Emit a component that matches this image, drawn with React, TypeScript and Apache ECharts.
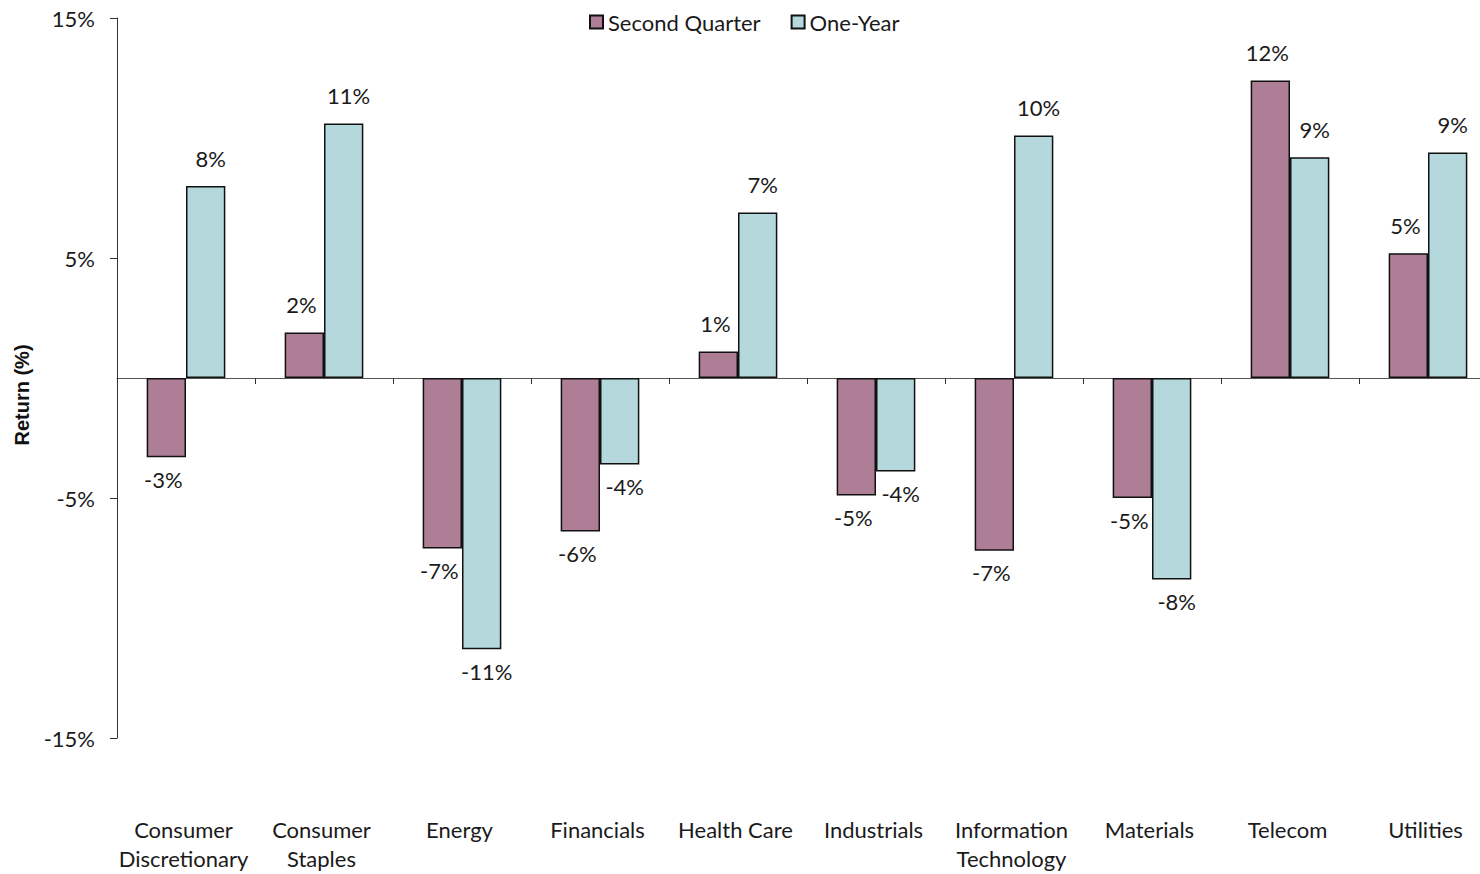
import React, { useEffect, useRef } from "react";
import * as echarts from "echarts";

const categories = [
  "Consumer\nDiscretionary",
  "Consumer\nStaples",
  "Energy",
  "Financials",
  "Health Care",
  "Industrials",
  "Information\nTechnology",
  "Materials",
  "Telecom",
  "Utilities",
];
const secondQuarter = [-3.3, 1.9, -7.1, -6.4, 1.1, -4.9, -7.2, -5.0, 12.4, 5.2];
const oneYear = [8.0, 10.6, -11.3, -3.6, 6.9, -3.9, 10.1, -8.4, 9.2, 9.4];
const seriesNames = ["Second Quarter", "One-Year"];
const yTickValues = [-15, -5, 5, 15];

const FONT = "Lato, 'Open Sans', sans-serif";
const FS = 22;

export default function App() {
  const ref = useRef<HTMLDivElement>(null);
  useEffect(() => {
    if (!ref.current) return;
    const chart = echarts.init(ref.current, null, { renderer: "svg" });
    const mk = (arr: number[]) =>
      arr.map((v) => ({
        value: v,
        label: { position: v < 0 ? "bottom" : "top", distance: v < 0 ? 11 : 17 },
      }));
    const labelCfg = (dx: number) => ({
      show: true,
      formatter: (p: any) => Math.round(p.value) + "%",
      fontSize: FS,
      color: "#1a1a1a",
      fontFamily: FONT,
      offset: [dx, 0],
    });
    const yMin = yTickValues[0];
    chart.setOption({
      animation: false,
      textStyle: { fontFamily: FONT },
      legend: {
        top: 6,
        left: 584,
        icon: "rect",
        itemWidth: 13,
        itemHeight: 13,
        itemGap: 30,
        textStyle: { fontSize: FS, color: "#1a1a1a", fontFamily: FONT },
        data: seriesNames,
      },
      grid: { left: 117, top: 18, bottom: 136, right: 0, containLabel: false },
      xAxis: [
        {
          type: "category",
          data: categories,
          axisLine: { onZero: true, onZeroAxisIndex: 0, lineStyle: { color: "#555", width: 1 } },
          axisTick: { show: true, length: 6, lineStyle: { color: "#333" } },
          axisLabel: { show: false },
        },
        {
          type: "category",
          data: categories,
          position: "bottom",
          axisLine: { show: false, onZero: false },
          axisTick: { show: false },
          axisLabel: {
            show: true,
            interval: 0,
            margin: 77,
            fontSize: FS,
            lineHeight: 29,
            color: "#1a1a1a",
            fontFamily: FONT,
            padding: [0, 5, 0, 0],
          },
        },
      ],
      yAxis: [
        {
          type: "value",
          min: yTickValues[0],
          max: yTickValues[yTickValues.length - 1],
          show: false,
          splitLine: { show: false },
        },
        {
          type: "value",
          min: 0,
          max: yTickValues[yTickValues.length - 1] - yTickValues[0],
          interval: yTickValues[1] - yTickValues[0],
          position: "left",
          axisLine: { show: true, onZero: false, lineStyle: { color: "#333", width: 1 } },
          axisTick: { show: true, length: 7, lineStyle: { color: "#333" } },
          splitLine: { show: false },
          axisLabel: {
            formatter: (v: number) => v + yMin + "%",
            fontSize: FS,
            color: "#1a1a1a",
            margin: 22,
            fontFamily: FONT,
          },
        },
      ],
      graphic: [
        {
          type: "text",
          x: 22,
          y: 395,
          rotation: Math.PI / 2,
          style: {
            text: "Return (%)",
            fontSize: 20,
            fontWeight: "bold",
            fill: "#111",
            font: `bold 20px ${FONT}`,
            textAlign: "center",
            textVerticalAlign: "middle",
          },
        },
      ],
      series: [
        {
          name: seriesNames[0],
          type: "bar",
          xAxisIndex: 0,
          yAxisIndex: 0,
          data: mk(secondQuarter),
          barGap: "0%",
          barCategoryGap: "43%",
          itemStyle: { color: "#ad7e96", borderColor: "#111", borderWidth: 1.5 },
          label: labelCfg(-3),
        },
        {
          name: seriesNames[1],
          type: "bar",
          xAxisIndex: 0,
          yAxisIndex: 0,
          data: mk(oneYear),
          barGap: "0%",
          barCategoryGap: "43%",
          itemStyle: { color: "#b5d8dd", borderColor: "#111", borderWidth: 1.5 },
          label: labelCfg(5),
        },
      ],
    });
    return () => chart.dispose();
  }, []);
  return (
    <div
      style={{
        position: "fixed",
        left: 0,
        top: 0,
        width: 1480,
        height: 874,
        overflow: "hidden",
        background: "#fff",
      }}
    >
      <div ref={ref} style={{ width: 1497, height: 874 }} />
    </div>
  );
}
